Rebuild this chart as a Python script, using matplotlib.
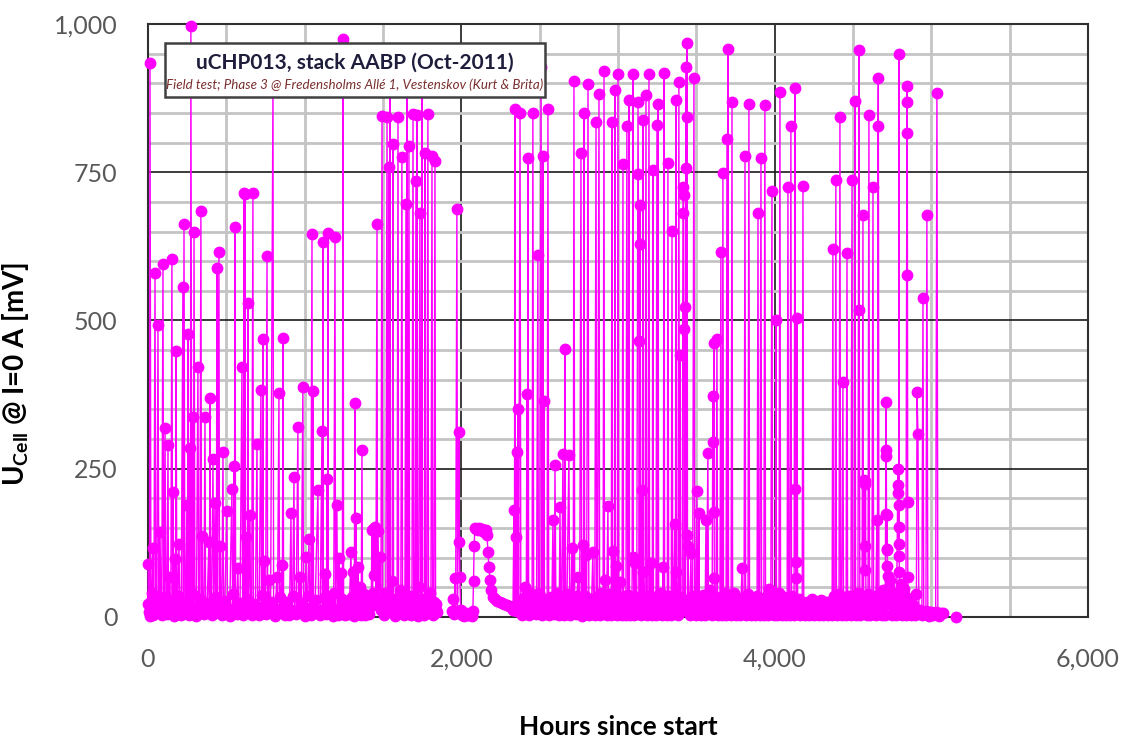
import numpy as np
import matplotlib.pyplot as plt
from matplotlib.patches import Rectangle
from matplotlib.ticker import FuncFormatter

plt.rcParams['font.family'] = ['Lato', 'DejaVu Sans']
plt.rcParams['mathtext.fontset'] = 'custom'
plt.rcParams['mathtext.rm'] = 'Lato'
plt.rcParams['mathtext.bf'] = 'Lato:bold'

# open-circuit cell voltage readings: (hours since start, mV)
period_1 = [
    (0, 90), (6, 8), (13, 935), (19, 6), (26, 40), (32, 116), (38, 10), (45, 580), (50, 15),
    (64, 492), (70, 8), (77, 143), (83, 12), (96, 595), (100, 20), (109, 318), (115, 10),
    (128, 290), (131, 15), (134, 67), (140, 8), (153, 603), (157, 20), (160, 211), (166, 10),
    (172, 98), (176, 25), (179, 448), (185, 12), (198, 123), (203, 8), (223, 556), (226, 10),
    (230, 662), (236, 15), (249, 189), (252, 20), (255, 477), (260, 8), (268, 285), (271, 12),
    (274, 996), (280, 10), (287, 337), (290, 15), (294, 649), (300, 10), (319, 421), (324, 12),
    (338, 685), (342, 20), (345, 137), (350, 8), (364, 337), (368, 15), (389, 126), (392, 10),
    (396, 369), (400, 12), (415, 266), (420, 20), (428, 192), (432, 8), (440, 588), (444, 15),
    (453, 615), (457, 10), (460, 120), (465, 20), (479, 278), (483, 8), (504, 179), (508, 15),
    (536, 216), (540, 10), (549, 254), (552, 12), (555, 657), (560, 8), (574, 83), (578, 20),
    (600, 421), (604, 10), (613, 715), (616, 15), (619, 714), (622, 12), (626, 135), (630, 10),
    (638, 530), (642, 15), (651, 172), (655, 8), (670, 715), (673, 20), (696, 292), (700, 10),
    (721, 382), (725, 12), (734, 468), (737, 15), (740, 94), (744, 8), (760, 608), (764, 10),
    (772, 62), (776, 15), (798, 905), (802, 10), (823, 67), (827, 12), (836, 377), (840, 8),
    (855, 88), (858, 15), (862, 471), (866, 10), (913, 175), (917, 12), (932, 236), (936, 8),
    (957, 320), (961, 10), (970, 67), (974, 15), (989, 387), (993, 10), (1009, 101), (1013, 8),
    (1028, 131), (1032, 15), (1047, 645), (1050, 10), (1053, 381), (1057, 12), (1085, 214),
    (1089, 8), (1111, 313), (1114, 12), (1117, 633), (1120, 10), (1130, 72), (1134, 15),
    (1143, 233), (1146, 8), (1149, 647), (1152, 10), (1194, 641), (1197, 12), (1206, 189),
    (1210, 8), (1219, 99), (1223, 15), (1232, 74), (1236, 10), (1245, 974), (1249, 10),
    (1296, 110), (1300, 12), (1309, 76), (1313, 8), (1321, 360), (1325, 15), (1328, 167),
    (1332, 10), (1340, 84), (1344, 8), (1353, 51), (1357, 12), (1366, 281), (1370, 10),
    (1425, 18), (1430, 147), (1434, 40), (1440, 150), (1446, 70), (1449, 152), (1455, 30),
    (1462, 662), (1465, 20), (1468, 145), (1474, 25), (1480, 101), (1487, 12), (1494, 845),
    (1498, 15), (1510, 40), (1518, 10), (1526, 843), (1530, 20), (1538, 759), (1541, 12),
    (1545, 900), (1549, 15), (1556, 60), (1560, 10), (1564, 798), (1568, 20), (1580, 30),
    (1590, 8), (1596, 843), (1600, 15), (1608, 45), (1614, 10), (1621, 776), (1625, 20),
    (1640, 12), (1647, 696), (1650, 10), (1653, 910), (1657, 25), (1666, 794), (1670, 15),
    (1680, 35), (1685, 8), (1692, 848), (1696, 20), (1704, 10), (1711, 735), (1714, 25),
    (1717, 846), (1720, 10), (1728, 50), (1736, 681), (1740, 15), (1749, 890), (1752, 12),
    (1760, 30), (1768, 782), (1772, 10), (1780, 20), (1787, 848), (1791, 12), (1800, 40),
    (1806, 10), (1813, 777), (1817, 15), (1825, 25), (1832, 769), (1836, 12), (1845, 8),
]

period_2 = [
    (1940, 10), (1948, 30), (1955, 5), (1960, 66), (1964, 8), (1972, 688), (1976, 10),
    (1985, 312), (1988, 126), (1991, 67), (1996, 12), (2004, 4), (2015, 2), (2030, 6),
    (2045, 3), (2060, 5), (2070, 2), (2074, 10), (2078, 60), (2082, 120), (2087, 150),
    (2095, 148), (2105, 146), (2115, 150), (2125, 147), (2135, 148), (2145, 144), (2155, 146),
    (2164, 138), (2170, 110), (2176, 85), (2183, 62), (2192, 45), (2202, 34), (2215, 30),
    (2230, 27), (2245, 25), (2260, 24), (2275, 22), (2290, 20), (2305, 18), (2320, 16),
    (2330, 12), (2336, 180), (2339, 12), (2343, 856), (2346, 15), (2349, 135), (2352, 20),
    (2355, 278), (2358, 10), (2362, 351), (2366, 25), (2375, 850), (2380, 15), (2390, 30),
    (2400, 12), (2406, 51), (2410, 20), (2419, 376), (2422, 10), (2426, 774), (2430, 25),
    (2440, 40), (2448, 15), (2457, 850), (2462, 20), (2470, 35), (2480, 10), (2489, 610),
    (2492, 25), (2500, 15), (2509, 927), (2514, 20), (2521, 777), (2524, 10), (2528, 364),
    (2531, 18), (2540, 30), (2548, 12), (2553, 856), (2558, 20), (2570, 25), (2578, 10),
    (2585, 164), (2590, 15), (2598, 256), (2604, 20), (2611, 40), (2620, 12), (2630, 186),
    (2635, 15), (2649, 275), (2653, 10), (2662, 452), (2666, 20), (2687, 273), (2692, 15),
    (2700, 30), (2706, 116), (2710, 10), (2719, 904), (2724, 20), (2738, 35), (2745, 67),
    (2750, 12), (2764, 782), (2768, 20), (2777, 121), (2780, 15), (2783, 850), (2788, 25),
    (2796, 104), (2800, 12), (2809, 899), (2814, 20), (2825, 30), (2840, 110), (2845, 15),
    (2860, 834), (2864, 20), (2879, 882), (2883, 10), (2895, 40), (2905, 15), (2911, 921),
    (2914, 20), (2917, 62), (2922, 12), (2936, 187), (2940, 20), (2950, 30), (2962, 834),
    (2965, 15), (2968, 111), (2972, 20), (2981, 888), (2984, 12), (2987, 86), (2992, 20),
    (3000, 915), (3005, 15), (3013, 59), (3020, 25), (3032, 764), (3036, 10), (3045, 35),
    (3057, 828), (3062, 20), (3070, 872), (3074, 15), (3084, 30), (3096, 915), (3098, 101),
    (3102, 20), (3109, 91), (3114, 10), (3128, 868), (3130, 747), (3134, 465), (3136, 25),
    (3140, 695), (3142, 629), (3146, 15), (3153, 214), (3156, 20), (3160, 838), (3162, 76),
    (3168, 12), (3179, 880), (3183, 20), (3192, 35), (3198, 915), (3202, 15), (3211, 91),
    (3216, 20), (3223, 754), (3227, 12), (3236, 30), (3249, 830), (3252, 20), (3255, 865),
    (3260, 15), (3275, 40), (3280, 10), (3287, 84), (3290, 20), (3294, 917), (3298, 15),
    (3310, 25), (3319, 765), (3324, 10), (3335, 30), (3345, 651), (3350, 15), (3364, 157),
    (3367, 20), (3370, 872), (3372, 76), (3378, 12), (3389, 902), (3392, 20), (3396, 442),
    (3400, 10), (3410, 30), (3415, 681), (3417, 725), (3419, 711), (3421, 486), (3423, 25),
    (3428, 523), (3430, 15), (3434, 757), (3436, 927), (3438, 138), (3440, 968), (3442, 843),
    (3444, 20), (3447, 120), (3452, 15), (3466, 108), (3470, 20), (3485, 909), (3490, 15),
    (3504, 212), (3508, 12), (3517, 175), (3520, 20), (3535, 30), (3550, 15), (3562, 164),
    (3566, 20), (3574, 277), (3578, 12), (3587, 45), (3595, 20), (3606, 373), (3608, 295),
    (3610, 177), (3613, 462), (3615, 66), (3620, 20), (3632, 469), (3636, 30), (3645, 15),
    (3657, 615), (3660, 25), (3670, 749), (3674, 15), (3685, 40), (3696, 806), (3699, 20),
    (3702, 958), (3706, 15), (3716, 30), (3728, 868), (3732, 20), (3745, 35), (3760, 15),
    (3775, 30), (3785, 25), (3792, 83), (3796, 20), (3805, 30), (3811, 777), (3815, 15),
    (3825, 35), (3836, 865), (3840, 20), (3855, 30), (3870, 15), (3882, 25), (3894, 681),
    (3898, 20), (3913, 774), (3917, 25), (3925, 12), (3938, 863), (3942, 20), (3952, 30),
    (3964, 47), (3970, 20), (3983, 718), (3987, 15), (3998, 25), (4009, 500), (4012, 20),
    (4022, 35), (4034, 885), (4038, 15), (4050, 30), (4065, 20), (4075, 25), (4085, 725),
    (4090, 15), (4104, 828), (4108, 20), (4118, 30), (4130, 892), (4132, 216), (4134, 93),
    (4136, 66), (4140, 20), (4143, 504), (4147, 15), (4160, 25), (4170, 12), (4181, 727),
    (4186, 20), (4200, 15), (4215, 10), (4230, 18), (4245, 8), (4260, 15), (4275, 12),
    (4290, 20), (4305, 10), (4320, 15), (4335, 8), (4350, 18), (4362, 12), (4372, 620),
    (4376, 15), (4385, 25), (4391, 737), (4395, 10), (4405, 30), (4417, 843), (4421, 20),
    (4436, 396), (4440, 15), (4450, 25), (4462, 614), (4466, 10), (4480, 30), (4494, 737),
    (4498, 15), (4505, 20), (4513, 870), (4517, 12), (4526, 30), (4538, 956), (4540, 518),
    (4544, 20), (4552, 35), (4564, 678), (4567, 20), (4572, 231), (4574, 120), (4576, 225),
    (4578, 80), (4580, 230), (4583, 20), (4590, 30), (4602, 846), (4606, 15), (4615, 25),
    (4628, 725), (4632, 20), (4640, 35), (4653, 164), (4656, 20), (4660, 828), (4662, 909),
    (4666, 15), (4680, 40), (4690, 20), (4700, 30), (4711, 362), (4712, 282), (4713, 271),
    (4714, 174), (4715, 115), (4716, 113), (4717, 172), (4719, 86), (4721, 69), (4725, 30),
    (4736, 62), (4742, 20), (4755, 35), (4770, 15), (4787, 250), (4788, 223), (4790, 209),
    (4791, 189), (4792, 152), (4793, 123), (4794, 949), (4795, 103), (4796, 76), (4800, 30),
    (4810, 45), (4820, 20), (4830, 35), (4845, 895), (4846, 868), (4847, 816), (4848, 577),
    (4849, 194), (4850, 67), (4856, 25), (4865, 15), (4877, 8), (4890, 10), (4902, 39),
    (4905, 10), (4909, 379), (4915, 308), (4921, 10), (4930, 6), (4947, 538), (4952, 8),
    (4960, 5), (4972, 678), (4978, 6), (4990, 8), (5005, 5), (5020, 7), (5036, 884),
    (5042, 6), (5055, 5), (5074, 7),
]

period_3 = [(5157, 0)]

# low readings logged between the spikes
idle_readings = [
    (3, 22), (10, 2), (23, 30), (35, 4), (57, 25), (88, 3), (104, 33), (121, 5), (146, 28),
    (169, 2), (190, 36), (212, 4), (242, 26), (264, 3), (283, 40), (309, 2), (331, 30),
    (357, 5), (378, 24), (406, 3), (437, 34), (471, 4), (491, 27), (521, 2), (545, 38),
    (567, 5), (588, 23), (609, 3), (634, 31), (662, 4), (686, 22), (710, 3), (730, 37),
    (751, 5), (783, 25), (811, 2), (846, 33), (875, 4), (890, 26), (903, 3), (924, 35),
    (946, 5), (979, 24), (1001, 2), (1019, 36), (1039, 4), (1068, 28), (1099, 3), (1124, 32),
    (1139, 5), (1163, 25), (1178, 2), (1186, 40), (1214, 4), (1241, 30), (1258, 3), (1271, 27),
    (1284, 5), (1305, 34), (1317, 2), (1337, 26), (1361, 4), (1377, 38), (1388, 3), (1399, 24),
    (1410, 5), (1418, 35), (1506, 3), (1534, 28), (1574, 2), (1604, 33), (1632, 4), (1661, 24),
    (1676, 3), (1700, 36), (1724, 2), (1744, 27), (1764, 4), (1796, 31), (1821, 3), (1841, 22),
    (2385, 4), (2415, 36), (2435, 3), (2452, 28), (2475, 5), (2496, 40), (2518, 4), (2536, 26),
    (2563, 3), (2574, 34), (2594, 5), (2616, 33), (2625, 3), (2641, 27), (2657, 4), (2675, 38),
    (2696, 3), (2715, 25), (2731, 5), (2756, 30), (2772, 2), (2792, 36), (2818, 4), (2832, 27),
    (2852, 3), (2870, 35), (2888, 4), (2900, 26), (2927, 3), (2945, 38), (2957, 4), (2977, 29),
    (2996, 3), (3009, 33), (3026, 4), (3040, 24), (3051, 3), (3066, 37), (3079, 4), (3090, 27),
    (3105, 3), (3120, 34), (3150, 4), (3173, 31), (3187, 3), (3207, 36), (3219, 4), (3232, 26),
    (3243, 3), (3265, 38), (3284, 4), (3304, 28), (3315, 3), (3330, 35), (3340, 4), (3356, 29),
    (3383, 3), (3405, 33), (3458, 4), (3477, 36), (3497, 3), (3512, 25), (3527, 4), (3543, 37),
    (3556, 3), (3583, 30), (3601, 4), (3626, 34), (3640, 3), (3651, 26), (3665, 4), (3679, 36),
    (3690, 3), (3711, 28), (3722, 4), (3738, 40), (3752, 3), (3767, 31), (3780, 4), (3800, 27),
    (3820, 3), (3830, 38), (3847, 4), (3862, 30), (3876, 3), (3888, 35), (3905, 4), (3920, 28),
    (3931, 3), (3946, 33), (3958, 4), (3976, 37), (3993, 3), (4004, 30), (4017, 4), (4028, 40),
    (4044, 3), (4058, 34), (4070, 4), (4080, 28), (4097, 3), (4113, 36), (4124, 4), (4153, 31),
    (4165, 3), (4176, 25), (4193, 4), (4208, 26), (4222, 3), (4238, 30), (4252, 4), (4268, 22),
    (4283, 3), (4298, 28), (4312, 4), (4328, 25), (4343, 3), (4357, 27), (4367, 4), (4381, 35),
    (4400, 3), (4411, 38), (4428, 4), (4445, 33), (4456, 3), (4472, 36), (4487, 4), (4509, 29),
    (4522, 3), (4532, 40), (4548, 4), (4558, 31), (4587, 3), (4596, 38), (4611, 4), (4621, 27),
    (4645, 3), (4672, 35), (4685, 4), (4695, 45), (4706, 3), (4731, 50), (4748, 4), (4762, 40),
    (4778, 3), (4804, 55), (4815, 4), (4825, 48), (4838, 3), (4860, 30), (4871, 4), (4884, 20),
    (4896, 3), (4925, 12), (4940, 3), (4966, 10), (4984, 2), (4998, 9), (5013, 3), (5028, 8),
    (5049, 2), (5064, 6),
]

title = 'uCHP013, stack AABP (Oct-2011)'
subtitle = 'Field test; Phase 3 @ Fredensholms Allé 1, Vestenskov (Kurt & Brita)'

# merge the idle readings into each period, break the line between periods
hours, u_mv = [], []
for period in (period_1, period_2, period_3):
    lo, hi = period[0][0], period[-1][0]
    extra = [p for p in idle_readings if lo <= p[0] <= hi]
    if hours:
        hours.append(np.nan)
        u_mv.append(np.nan)
    for h, v in sorted(period + extra, key=lambda p: p[0]):
        hours.append(h)
        u_mv.append(v)

fig = plt.figure(figsize=(11.26, 7.42), dpi=100)
ax = fig.add_axes([0.1314, 0.1685, 0.8348, 0.7992])

ax.plot(hours, u_mv, color='#FF00FF', lw=1.0, marker='o', ms=7.5,
        mfc='#FF00FF', mec='#FF00FF', clip_on=False, zorder=3)

ax.set_xlim(0, 6000)
ax.set_ylim(0, 1000)
ax.set_xticks(np.arange(0, 6001, 2000))
ax.set_yticks(np.arange(0, 1001, 250))
ax.set_xticks(np.arange(0, 6001, 500), minor=True)
ax.set_yticks(np.arange(0, 1001, 50), minor=True)
ax.set_axisbelow(True)
ax.grid(which='minor', color='#C4C4C4', lw=2.0)
ax.grid(which='major', color='#1A1A1A', lw=1.2)

fmt = FuncFormatter(lambda v, p: f'{v:,.0f}')
ax.xaxis.set_major_formatter(fmt)
ax.yaxis.set_major_formatter(fmt)
ax.tick_params(which='both', length=0)
ax.tick_params(axis='both', labelsize=18, labelcolor='#595959', pad=22)

for s in ax.spines.values():
    s.set_color('#303030')
    s.set_linewidth(1.5)

ax.set_xlabel('Hours since start', fontsize=19, fontweight='bold')
ax.set_ylabel(r'U$_{\mathbf{Cell}}$ @ I=0 A [mV]', fontsize=20, fontweight='bold')
ax.xaxis.set_label_coords(0.5, -0.166)
ax.yaxis.set_label_coords(-0.124, 0.41)

# title box in the upper-left corner of the plot area
ax.add_patch(Rectangle((0.018, 0.877), 0.404, 0.091, transform=ax.transAxes,
                       fc='white', ec='#404040', lw=1.8, zorder=5))
ax.text(0.220, 0.934, title, transform=ax.transAxes, ha='center', va='center',
        fontsize=15, fontweight='bold', color='#1E1E3C', zorder=6)
ax.text(0.220, 0.897, subtitle, transform=ax.transAxes, ha='center', va='center',
        fontsize=9.6, style='italic', color='#7A2E2E', zorder=6)

fig.savefig('out.png', dpi=100, facecolor='white')
